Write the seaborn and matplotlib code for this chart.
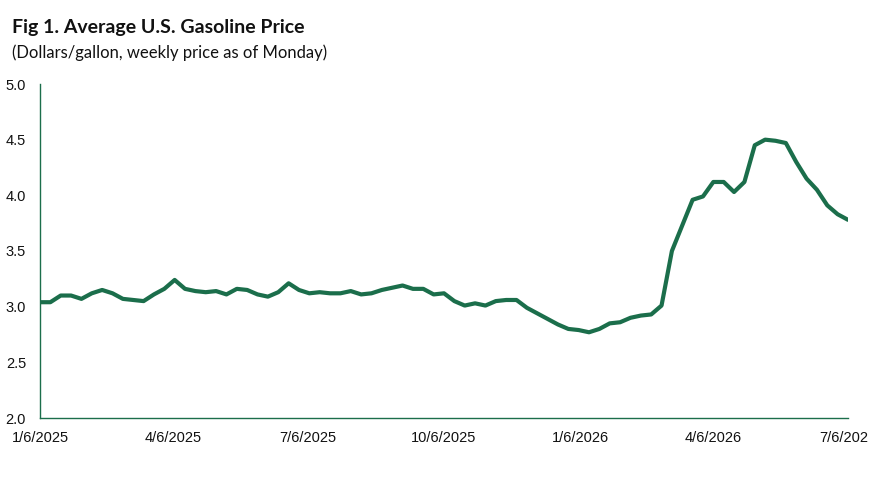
import numpy as np
import pandas as pd
import matplotlib
matplotlib.use("Agg")
import matplotlib.pyplot as plt
import seaborn as sns
from matplotlib import font_manager
from matplotlib.transforms import Bbox, TransformedBbox

start_date = "2025-01-06"
n_weeks = 79
prices = [
    3.04, 3.04, 3.10, 3.10, 3.07, 3.12, 3.15, 3.12, 3.07, 3.06,
    3.05, 3.11, 3.16, 3.24, 3.16, 3.14, 3.13, 3.14, 3.11, 3.16,
    3.15, 3.11, 3.09, 3.13, 3.21, 3.15, 3.12, 3.13, 3.12, 3.12,
    3.14, 3.11, 3.12, 3.15, 3.17, 3.19, 3.16, 3.16, 3.11, 3.12,
    3.05, 3.01, 3.03, 3.01, 3.05, 3.06, 3.06, 2.99, 2.94, 2.89,
    2.84, 2.80, 2.79, 2.77, 2.80, 2.85, 2.86, 2.90, 2.92, 2.93,
    3.01, 3.50, 3.73, 3.96, 3.99, 4.12, 4.12, 4.03, 4.12, 4.45,
    4.50, 4.49, 4.47, 4.30, 4.15, 4.05, 3.91, 3.83, 3.78,
]
tick_dates = ["2025-01-06", "2025-04-06", "2025-07-06", "2025-10-06",
              "2026-01-06", "2026-04-06", "2026-07-06"]
tick_labels = ["1/6/2025", "4/6/2025", "7/6/2025", "10/6/2025",
               "1/6/2026", "4/6/2026", "7/6/2026"]
y_ticks = [2.0, 2.5, 3.0, 3.5, 4.0, 4.5, 5.0]

title = "Fig 1. Average U.S. Gasoline Price"
subtitle = "(Dollars/gallon, weekly price as of Monday)"

df = pd.DataFrame({
    "date": pd.date_range(start_date, periods=n_weeks, freq="7D"),
    "price": prices,
})

sns.set_style("white")
avail = {f.name for f in font_manager.fontManager.ttflist}
narrow = "Liberation Sans Narrow" if "Liberation Sans Narrow" in avail else "Liberation Sans"
plt.rcParams["font.family"] = ["Lato", "DejaVu Sans"]

green = "#1B6E4B"
fig = plt.figure(figsize=(8.81, 4.80), dpi=100)
ax = fig.add_axes([40/881, 1-418/480, (848-40)/881, (418-84)/480])

sns.lineplot(data=df, x="date", y="price", ax=ax, color=green, linewidth=3.0)

ax.set_xlim(pd.Timestamp(tick_dates[0]), pd.Timestamp(tick_dates[-1]))
ax.set_ylim(y_ticks[0], y_ticks[-1])
ax.set_xticks([pd.Timestamp(d) for d in tick_dates])
ax.set_xticklabels(tick_labels, fontfamily=narrow, fontsize=10.5, color="#111111")
ax.set_yticks(y_ticks)
ax.set_yticklabels([f"{v:.1f}" for v in y_ticks], fontfamily=narrow, fontsize=10.5, color="#111111")
ax.set_xlabel("")
ax.set_ylabel("")

for s in ["top", "right"]:
    ax.spines[s].set_visible(False)
for s in ["left", "bottom"]:
    ax.spines[s].set_color(green)
    ax.spines[s].set_linewidth(1.0)
ax.tick_params(axis="x", length=5, color=green, width=1.0, pad=4)
ax.tick_params(axis="y", length=0, pad=10)
ax.grid(False)

# the reference clips the last date label at the right edge of the chart area
clip = TransformedBbox(Bbox([[0, 0], [868/881, 1]]), fig.transFigure)
last = ax.get_xticklabels()[-1]
last.set_clip_on(True)
last.set_clip_box(clip)

fig.text(12/881, 1-28/480, title, fontsize=14, fontweight="bold", va="center", ha="left", color="#111111")
fig.text(12/881, 1-53/480, subtitle, fontsize=12, va="center", ha="left", color="#111111")

fig.savefig("out.png", dpi=100)
